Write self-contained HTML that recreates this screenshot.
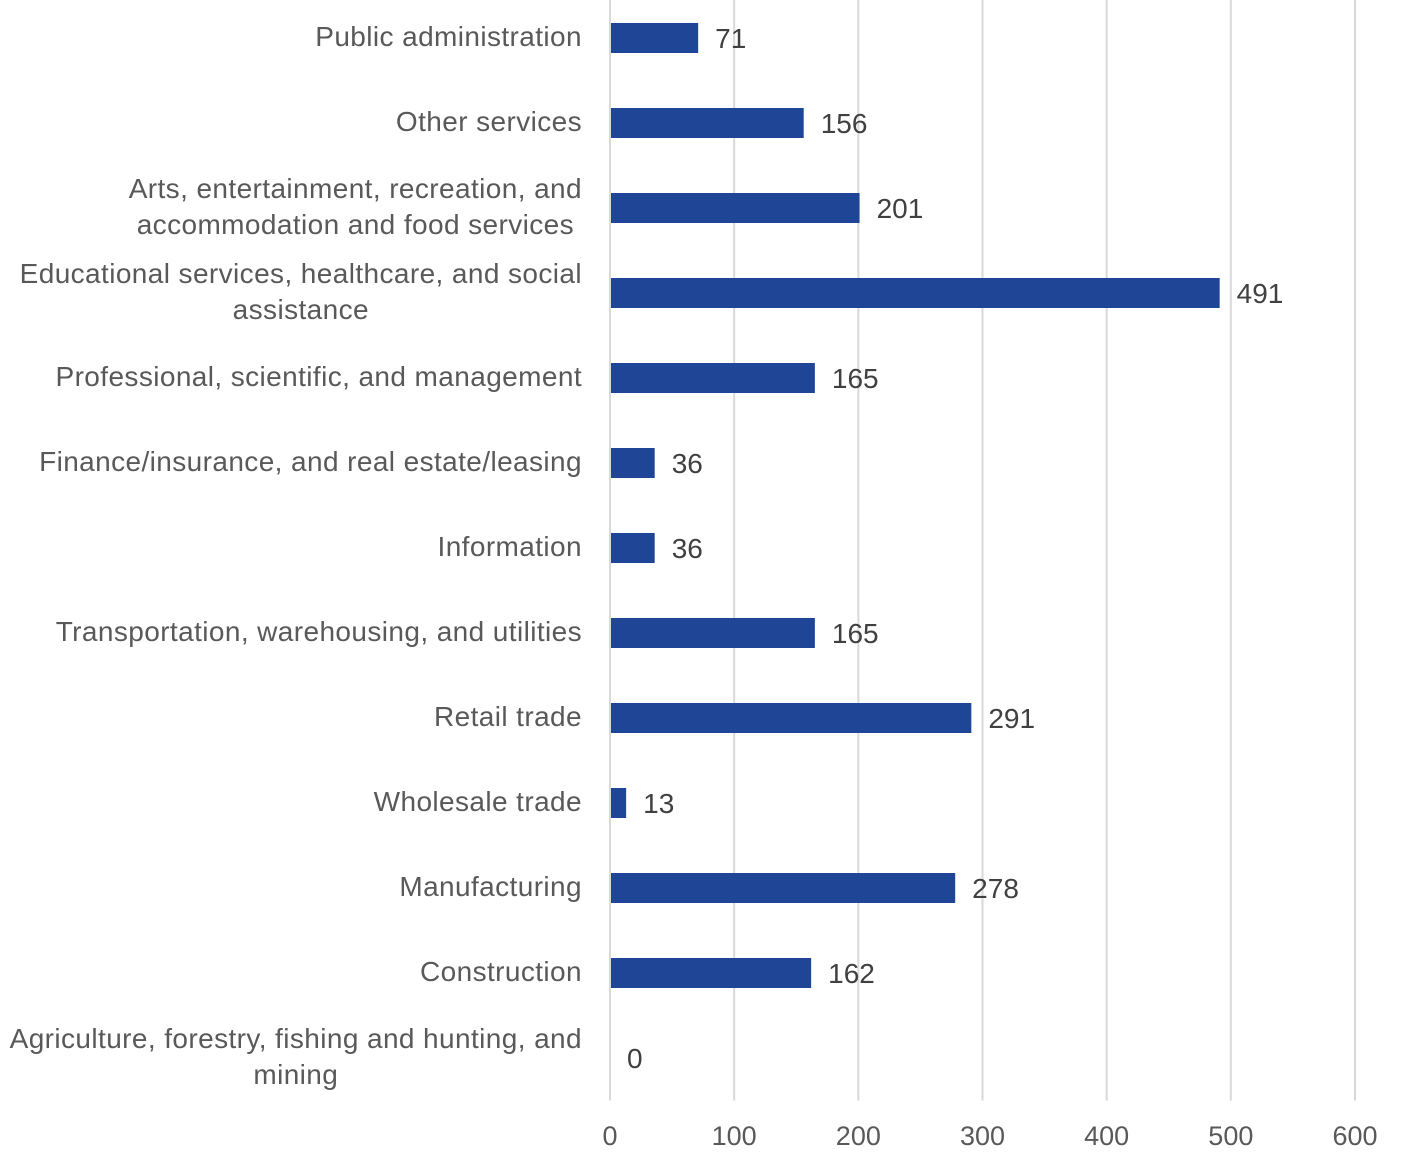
<!DOCTYPE html>
<html><head><meta charset="utf-8"><style>
body{margin:0;background:#fff;width:1407px;height:1171px;overflow:hidden;font-family:"Liberation Sans",sans-serif}
svg text{font-family:"Liberation Sans",sans-serif}
</style></head><body>
<svg id="chart" width="1407" height="1171" xmlns="http://www.w3.org/2000/svg"></svg>
<script>
const categories=["Public administration","Other services","Arts, entertainment, recreation, and|accommodation and food services","Educational services, healthcare, and social|assistance","Professional, scientific, and management","Finance/insurance, and real estate/leasing","Information","Transportation, warehousing, and utilities","Retail trade","Wholesale trade","Manufacturing","Construction","Agriculture, forestry, fishing and hunting, and|mining"];
const values=[71,156,201,491,165,36,36,165,291,13,278,162,0];
const ticks=[0,100,200,300,400,500,600];
const svgEl=document.getElementById('chart');
const NS='http://www.w3.org/2000/svg';
const plotX0=610,plotX1=1355,xMax=600,yTop=-4.5,bandH=85;
const xs=v=>plotX0+(plotX1-plotX0)*v/xMax;
const yc=i=>yTop+bandH*(i+0.5);
function mk(t,a,txt){const e=document.createElementNS(NS,t);for(const k in a)e.setAttribute(k,a[k]);if(txt!==undefined)e.textContent=txt;svgEl.appendChild(e);return e;}
const yBottom=yTop+bandH*categories.length;
ticks.forEach(t=>{
 const g=mk('line',{x1:xs(t),x2:xs(t),y1:0,y2:yBottom,stroke:'#d9d9d9','stroke-width':2});
 
 
 const l=mk('text',{x:xs(t),y:1145,'text-anchor':'middle','font-size':27,fill:'#595959'},t);
 
 
});
categories.forEach((c,i)=>{
 const y=yc(i),v=values[i];
 if(v>0){const b=mk('rect',{x:plotX0,y:y-15,width:xs(v)-plotX0,height:30,fill:'#1f4696'});
 
 }
 const vl=mk('text',{x:xs(v)+17,y:y+10,'font-size':28,fill:'#404040'},v);
 
 
 const lines=c.split('|');
 let w0=0;
 lines.forEach((ln,j)=>{
  const yy=y+8+(j-(lines.length-1)/2)*36;
  const t=mk('text',{x:582,y:yy,'text-anchor':'end','font-size':28,'letter-spacing':0.4,fill:'#595959'},ln);
  
  
  if(j===0){try{w0=t.getComputedTextLength();}catch(e){w0=0;}}
  else{t.setAttribute('text-anchor','middle');t.setAttribute('x',582-w0/2);}
 });
});
const ax=mk('line',{x1:plotX0,x2:plotX0,y1:0,y2:yBottom,stroke:'#d9d9d9','stroke-width':2});


</script>
</body></html>
